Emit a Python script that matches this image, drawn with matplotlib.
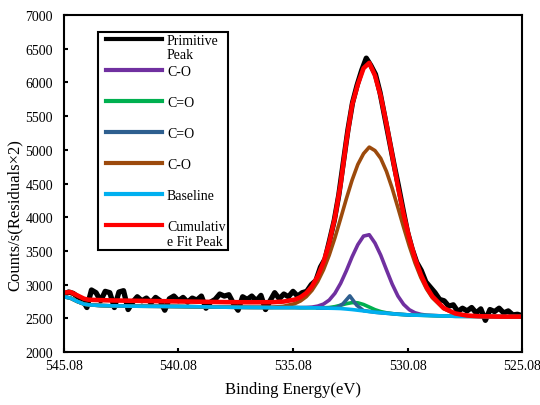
import numpy as np
import matplotlib.pyplot as plt

plt.rcParams['font.family'] = ['Liberation Serif', 'DejaVu Serif']

# Fitted curves, binding energy (eV)
fit_energy = [545.08, 544.8, 544.5, 544.2, 544.0, 543.5, 543.0, 542.0, 541.0, 540.0,
              539.0, 538.0, 537.0, 536.0, 535.5, 535.0, 534.75, 534.5, 534.25, 534.0,
              533.75, 533.5, 533.25, 533.0, 532.75, 532.5, 532.25, 532.0, 531.75, 531.5,
              531.25, 531.0, 530.75, 530.5, 530.25, 530.0, 529.75, 529.5, 529.25, 529.0,
              528.5, 528.0, 527.5, 527.0, 526.0, 525.08]

baseline = np.array([2820, 2800, 2750, 2710, 2700, 2690, 2685, 2680, 2678, 2675,
                     2670, 2665, 2662, 2660, 2660, 2660, 2658, 2657, 2656, 2655,
                     2653, 2650, 2648, 2645, 2638, 2630, 2620, 2610, 2600, 2590,
                     2582, 2575, 2568, 2560, 2555, 2550, 2547, 2545, 2542, 2540,
                     2535, 2530, 2529, 2528, 2525, 2525])

# peak heights above the baseline
co_a_height = np.array([0, 0, 0, 0, 0, 0, 0, 0, 0, 0,
                        0, 0, 0, 0, 0, 0, 1, 4, 10, 26,
                        58, 120, 223, 374, 568, 782, 972, 1110, 1140, 1026,
                        855, 645, 440, 271, 152, 77, 35, 14, 5, 2,
                        0, 0, 0, 0, 0, 0])
co_green_height = np.array([0, 0, 0, 0, 0, 0, 0, 0, 0, 0,
                            0, 0, 0, 0, 0, 0, 0, 0, 0, 1,
                            3, 10, 25, 49, 79, 103, 110, 95, 67, 38,
                            18, 7, 2, 0, 0, 0, 0, 0, 0, 0,
                            0, 0, 0, 0, 0, 0])
co_b_height = np.array([0, 0, 0, 0, 0, 0, 0, 0, 0, 0,
                        0, 0, 0, 4, 18, 58, 100, 164, 259, 391,
                        566, 786, 1046, 1336, 1636, 1920, 2162, 2333, 2440, 2398,
                        2291, 2105, 1861, 1583, 1295, 1020, 772, 562, 394, 266,
                        107, 37, 11, 3, 0, 0])

cumulative = [2880, 2890, 2840, 2790, 2775, 2770, 2765, 2760, 2755, 2750,
              2745, 2740, 2738, 2739, 2748, 2778, 2814, 2875, 2975, 3123,
              3330, 3616, 3994, 4492, 5129, 5665, 5970, 6210, 6290, 6102,
              5796, 5382, 4921, 4459, 4044, 3687, 3389, 3151, 2966, 2828,
              2652, 2572, 2542, 2531, 2525, 2525]

# narrow C=O component
cob_energy = [534.0, 533.5, 533.2, 532.9, 532.6, 532.3, 532.0, 531.5, 531.0, 530.0]
cob_counts = [2655, 2650, 2652, 2715, 2833, 2695, 2614, 2590, 2575, 2550]

# measured spectrum, 0.2 eV steps
raw_energy = np.linspace(545.08, 525.08, 101)
raw_counts = [2860, 2890, 2870, 2820, 2780, 2660, 2920, 2880, 2760, 2900,
              2880, 2660, 2890, 2910, 2630, 2740, 2820, 2760, 2800, 2730,
              2810, 2760, 2620, 2790, 2830, 2760, 2810, 2740, 2800, 2770,
              2830, 2650, 2740, 2780, 2860, 2830, 2850, 2720, 2620, 2820,
              2780, 2830, 2760, 2840, 2630, 2760, 2880, 2790, 2860, 2820,
              2900, 2830, 2880, 2900, 3000, 3060, 3260, 3380, 3660, 3950,
              4330, 4820, 5300, 5700, 5960, 6180, 6360, 6250, 6120, 5850,
              5500, 5150, 4800, 4470, 4120, 3780, 3530, 3330, 3210, 3040,
              2960, 2880, 2780, 2760, 2680, 2700, 2600, 2650, 2610, 2660,
              2580, 2640, 2470, 2630, 2600, 2650, 2580, 2610, 2550, 2560,
              2540]

x_ticks = [545.08, 540.08, 535.08, 530.08, 525.08]
x_labels = ['545.08', '540.08', '535.08', '530.08', '525.08']

fig, ax = plt.subplots(figsize=(5.4, 4.06), dpi=100)
fig.subplots_adjust(left=0.1185, right=0.9667, bottom=0.1305, top=0.9606)

ax.plot(raw_energy, raw_counts, color='black', lw=3.8, label='Primitive')
ax.plot(fit_energy, baseline + co_a_height, color='#7030A0', lw=2.6, label='C-O')
ax.plot(fit_energy, baseline + co_green_height, color='#00B050', lw=2.6, label='C=O')
ax.plot(cob_energy, cob_counts, color='#2E5F8F', lw=2.6, label='C=O')
ax.plot(fit_energy, baseline + co_b_height, color='#9C4A0C', lw=2.6, label='C-O')
ax.plot(fit_energy, baseline, color='#00B0F0', lw=2.6, label='Baseline')
ax.plot(fit_energy, cumulative, color='#FF0000', lw=3.3, label='Cumulativ\ne Fit Peak')

ax.set_xlim(545.08, 525.08)
ax.set_xticks(x_ticks)
ax.set_xticklabels(x_labels)
ax.set_ylim(2000, 7000)
ax.set_yticks(range(2000, 7001, 500))
ax.tick_params(direction='in', length=3, width=1.5, labelsize=10)
ax.tick_params(axis='y', pad=8)
ax.tick_params(axis='x', pad=5)
for s in ax.spines.values():
    s.set_linewidth(1.5)

ax.set_xlabel('Binding Energy(eV)', fontsize=12)
ax.xaxis.set_label_coords(0.5, -0.085)
ax.set_ylabel('Counts/s(Residuals×2)', fontsize=12)
ax.yaxis.set_label_coords(-0.089, 0.41)

leg = ax.legend(loc='upper left', bbox_to_anchor=(0.074, 0.95), borderaxespad=0,
                fontsize=10, handlelength=4.46, handletextpad=0.36, labelspacing=1.3,
                borderpad=0.15, fancybox=False, edgecolor='black', framealpha=1)
leg.get_frame().set_linewidth(1.5)
for line in leg.get_lines():
    line.set_linewidth(3)
    xd = line.get_xdata()
    yd = line.get_ydata()
    # indent the handle a little from the frame
    line.set_data([xd[0] + 4.3, xd[-1]], [yd[0], yd[-1]])
# two-line label: keep the handle next to the first line
rows = leg._legend_handle_box.get_children()[0].get_children()
rows[-1].align = 'top'

# second line of the first label
fig.canvas.draw()
bb = leg.get_texts()[0].get_window_extent()
fig.text(bb.x0 / 540, ((bb.y0 + bb.y1) / 2 - 14) / 406, 'Peak', fontsize=10, va='center')

fig.savefig('out.png', dpi=100)
